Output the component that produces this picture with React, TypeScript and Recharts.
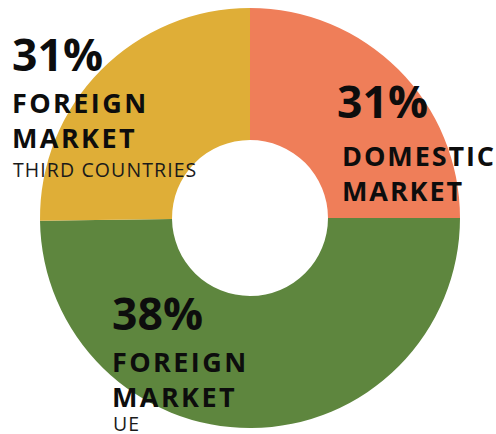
import React from "react";
import { PieChart, Pie, Cell } from "recharts";

// slice order runs clockwise from 12 o'clock
const MARKETS = ["DOMESTIC MARKET", "FOREIGN MARKET UE", "FOREIGN MARKET THIRD COUNTRIES"];
const SHARES = [25, 49.8, 25.2];
const PERCENT_LABELS = ["31%", "38%", "31%"];
const TITLE_LINES = [["DOMESTIC", "MARKET"], ["FOREIGN", "MARKET"], ["FOREIGN", "MARKET"]];
const SUB_LABELS = ["", "UE", "THIRD COUNTRIES"];
const COLORS = ["#EF7E59", "#5E863E", "#DFAE37"];

const data = MARKETS.map((name, i) => ({
  name,
  value: SHARES[i],
  pct: PERCENT_LABELS[i],
  title: TITLE_LINES[i],
  sub: SUB_LABELS[i],
}));

// where each text block sits (x = left edge, y = baseline of the % line)
const LABEL_POS = [
  { x: 337, y: 118, tx: 342, ls: 1.9 },
  { x: 112, y: 330, tx: 112, ls: 2.4 },
  { x: 12, y: 71, tx: 12, ls: 2.4 },
];

const FONT = "'Open Sans', 'Noto Sans', sans-serif";

const renderLabel = (props: any) => {
  const i = props.index;
  const d = data[i];
  const pos = LABEL_POS[i];
  return (
    <g key={`lbl-${i}`}>
      <text x={pos.x} y={pos.y} fontFamily={FONT} fontWeight={700} fontSize={44.5} fill="#0d0d0d">
        {d.pct}
      </text>
      {d.title.map((line: string, j: number) => (
        <text
          key={j}
          x={pos.tx}
          y={pos.y + (i === 0 ? 48 : 42) + j * 34.5}
          fontFamily={FONT}
          fontWeight={700}
          fontSize={27}
          letterSpacing={pos.ls}
          fill="#0d0d0d"
        >
          {line}
        </text>
      ))}
      {d.sub ? (
        <text
          x={pos.tx + 1}
          y={pos.y + 42 + 34.5 + (i === 1 ? 24 : 29)}
          fontFamily={FONT}
          fontWeight={400}
          fontSize={19.5}
          letterSpacing={1.1}
          fill="#1a1a1a"
        >
          {d.sub}
        </text>
      ) : null}
    </g>
  );
};

export default function App() {
  return (
    <div style={{ position: "absolute", left: 0, top: 0, width: 496, height: 434, background: "#fff" }}>
      <PieChart width={496} height={434} margin={{ top: 0, right: 0, bottom: 0, left: 0 }}>
        <Pie
          data={data}
          dataKey="value"
          nameKey="name"
          cx={250}
          cy={218}
          innerRadius={78}
          outerRadius={210}
          startAngle={90}
          endAngle={-270}
          stroke="none"
          label={renderLabel}
          labelLine={false}
          isAnimationActive={false}
        >
          {data.map((d, i) => (
            <Cell key={d.name} fill={COLORS[i]} />
          ))}
        </Pie>
      </PieChart>
    </div>
  );
}
